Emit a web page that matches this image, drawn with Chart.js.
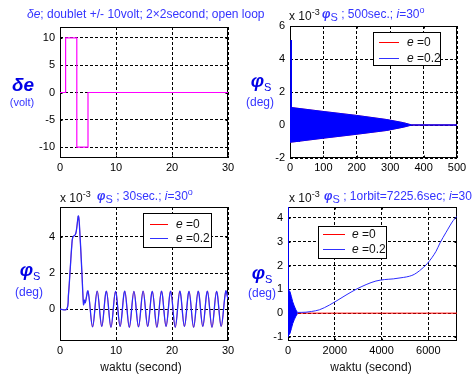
<!DOCTYPE html>
<html><head><meta charset="utf-8">
<script src="https://cdn.jsdelivr.net/npm/chart.js@4/dist/chart.umd.min.js"></script>
<style>
html,body{margin:0;padding:0;background:#fff;width:472px;height:375px;overflow:hidden;}
#wrap{position:relative;width:472px;height:375px;font-family:Arial,"Liberation Sans",Helvetica,sans-serif;}
canvas{position:absolute;left:0;top:0;}
.a{position:absolute;white-space:nowrap;line-height:14px;font-size:12px;}
.blue{color:#3434ff;}
.blk{color:#111;}
.sup{font-size:9px;position:relative;top:-5px;}
.sub{font-size:11px;position:relative;top:3px;}
.c{transform:translate(-50%,-50%);text-align:center;}
.big{font-size:19px;font-weight:bold;font-style:italic;color:#0000e6;line-height:20px;}
.lg{position:absolute;border:1px solid #000;background:#fff;box-sizing:border-box;}
.ln{position:absolute;height:1px;}
</style></head>
<body><div id="wrap">
<canvas id="c1" width="472" height="375"></canvas>
<canvas id="c2" width="472" height="375"></canvas>
<canvas id="c3" width="472" height="375"></canvas>
<canvas id="c4" width="472" height="375"></canvas>

<!-- titles -->
<div class="a blue" style="left:27px;top:7px"><i>δe</i>; doublet +/- 10volt; 2×2second; open loop</div>

<div class="a blk" style="left:289px;top:9px">x 10<span class="sup">-3</span></div>
<div class="a blue" style="left:322px;top:7px"><b><i>φ</i></b><span class="sub">S</span> ; 500sec.; <i>i</i>=30<span class="sup">o</span></div>

<div class="a blk" style="left:60px;top:191px">x 10<span class="sup">-3</span></div>
<div class="a blue" style="left:97px;top:189px"><b><i>φ</i></b><span class="sub">S</span> ; 30sec.; <i>i</i>=30<span class="sup">o</span></div>

<div class="a blk" style="left:289px;top:191px">x 10<span class="sup">-3</span></div>
<div class="a blue" style="left:324px;top:189px"><b><i>φ</i></b><span class="sub">S</span> ; 1orbit=7225.6sec; <i>i</i>=30<span class="sup">o</span></div>

<!-- y labels -->
<div class="a c big" style="left:23px;top:85px">δe</div>
<div class="a c blue" style="left:22px;top:102px;font-size:11px">(volt)</div>

<div class="a c big" style="left:261px;top:82px">φ<span style="font-size:11px;font-weight:normal;font-style:normal;position:relative;top:4px">S</span></div>
<div class="a c blue" style="left:260px;top:102px">(deg)</div>

<div class="a c big" style="left:30px;top:271px">φ<span style="font-size:11px;font-weight:normal;font-style:normal;position:relative;top:4px">S</span></div>
<div class="a c blue" style="left:29px;top:292px">(deg)</div>

<div class="a c big" style="left:262px;top:274px">φ<span style="font-size:11px;font-weight:normal;font-style:normal;position:relative;top:4px">S</span></div>
<div class="a c blue" style="left:262px;top:293px">(deg)</div>

<!-- x labels -->
<div class="a c blk" style="left:141px;top:367px">waktu (second)</div>
<div class="a c blk" style="left:371px;top:367px">waktu (second)</div>
</div>
<script>
// ---------------- data ----------------
// panel 1: elevator doublet input (volt) vs time (s)
const P1_T = [0, 1, 1, 3, 3, 5, 5, 30];
const P1_V = [0, 0, 10, 10, -10, -10, 0, 0];
const P1_XTICKS = [0, 10, 20, 30];
const P1_YTICKS = [-10, -5, 0, 5, 10];

// panel 3: phi_S (x1e-3 deg), first 30 s (e=0 and e=0.2 overlap)
const P3_T = [0, 1.2, 1.5, 1.8, 2.1, 2.3, 2.7, 2.9, 3.3, 3.6, 3.9, 4.2, 4.35, 4.5, 5.0, 5.82, 6.64, 7.46, 8.28, 9.1, 9.92, 10.74, 11.56, 12.38, 13.2, 14.02, 14.84, 15.66, 16.48, 17.3, 18.12, 18.94, 19.76, 20.58, 21.4, 22.22, 23.04, 23.86, 24.68, 25.5, 26.32, 27.14, 27.96, 28.78, 29.6, 30];
const P3_V = [0, 0, 0.75, 2.1, 3.5, 4.0, 4.1, 4.3, 5.15, 3.9, 2.1, 0.25, 0.5, 0.35, 1.0, -0.98, 1.0, -0.95, 1.0, -1.0, 0.98, -0.95, 1.0, -1.0, 0.98, -0.98, 1.0, -0.95, 0.98, -1.0, 1.0, -0.95, 1.0, -1.0, 1.0, -0.95, 0.98, -1.0, 1.0, -0.95, 1.0, -1.0, 0.98, -0.95, 1.0, 0.55];
const P3_XTICKS = [0, 10, 20, 30];
const P3_YTICKS = [0, 2, 4];

// panel 2: 500 s, oscillation envelope (dense band)
const P2_ENV_T  = [0, 100, 200, 290, 340, 365, 500];
const P2_ENV_HI = [1.07, 0.82, 0.58, 0.33, 0.14, 0, 0];
const P2_ENV_LO = [-1.05, -0.80, -0.56, -0.33, -0.13, 0, 0];
const P2_XTICKS = [0, 100, 200, 300, 400, 500];
const P2_YTICKS = [-2, 0, 2, 4, 6];

// panel 4: one orbit
const P4_ENV_T  = [0, 85, 200, 340, 410];
const P4_ENV_HI = [1.0, 0.9, 0.48, 0.13, 0.03];
const P4_ENV_LO = [-0.95, -0.85, -0.44, -0.12, -0.02];
const P4_T = [410, 770, 1000, 1340, 1770, 2050, 2480, 2910, 3340, 3760, 4120, 4500, 4930, 5190, 5400, 5620, 5800, 5970, 6330, 6500, 6760, 7070, 7225.6];
const P4_V = [0.03, 0.04, 0.07, 0.14, 0.34, 0.5, 0.76, 1.0, 1.2, 1.35, 1.41, 1.44, 1.5, 1.55, 1.63, 1.78, 1.93, 2.1, 2.6, 2.95, 3.4, 3.9, 4.07];
const P4_E0_T = [0, 7225.6];
const P4_E0_V = [0, 0];
const P4_XTICKS = [0, 2000, 4000, 6000];
const P4_YTICKS = [-1, 0, 1, 2, 3, 4];

const LEGEND_LABELS = ['0', '0.2'];
const LEGEND_COLORS = ['#ff0000', '#3030ff'];

// ---------------- helpers ----------------
const FONT = 'Arial, "Liberation Sans", sans-serif';
const pts = (t, v) => t.map((x, i) => ({x, y: v[i]}));
const BLUE = '#2a2aff', FILLBLUE = '#0000ff', RED = '#ff0000', MAG = '#ff00ff';

const framePlugin = {
  id: 'frame',
  beforeDatasetsDraw(chart) {
    const {ctx, chartArea: a, scales} = chart;
    ctx.save();
    ctx.setLineDash([]);
    ctx.strokeStyle = '#000';
    ctx.lineWidth = 1;
    const L = Math.round(a.left) + 0.5, T = Math.round(a.top) + 0.5;
    const R = Math.round(a.right) - 0.5, B = Math.round(a.bottom) - 0.5;
    ctx.strokeRect(L, T, R - L, B - T);
    ctx.beginPath();
    scales.x.ticks.forEach(t => {
      const px = Math.round(scales.x.getPixelForValue(t.value)) + 0.5;
      ctx.moveTo(px, B); ctx.lineTo(px, B - 2);
      ctx.moveTo(px, T); ctx.lineTo(px, T + 2);
    });
    scales.y.ticks.forEach(t => {
      const py = Math.round(scales.y.getPixelForValue(t.value)) + 0.5;
      ctx.moveTo(L, py); ctx.lineTo(L + 2, py);
      ctx.moveTo(R, py); ctx.lineTo(R - 2, py);
    });
    ctx.stroke();
    ctx.restore();
  }
};

function makeChart(id, area, xr, yr, xticks, yticks, datasets) {
  const YW = 30, XH = 20;
  const axis = (ticks, isX) => ({
    type: 'linear',
    min: isX ? xr[0] : yr[0],
    max: isX ? xr[1] : yr[1],
    afterFit: s => { if (isX) s.height = XH; else s.width = YW; },
    afterBuildTicks: s => { s.ticks = ticks.map(v => ({value: v})); },
    grid: {color: '#000', lineWidth: 1, drawTicks: false},
    border: {display: false, dash: [3, 2]},
    ticks: {padding: isX ? 3 : 5, color: '#000', font: {family: FONT, size: 11},
            maxRotation: 0, autoSkip: false, callback: v => String(v)}
  });
  return new Chart(document.getElementById(id), {
    type: 'line',
    data: {datasets},
    options: {
      responsive: false, animation: false, events: [],
      layout: {padding: {left: area.l - YW, top: area.t, right: 472 - area.r, bottom: 375 - area.b - XH}},
      plugins: {legend: {display: false}, tooltip: {enabled: false}},
      elements: {point: {radius: 0}, line: {borderWidth: 1}},
      scales: {x: axis(xticks, true), y: axis(yticks, false)}
    },
    plugins: [framePlugin]
  });
}

// Chart.js draws dataset index 0 last (on top): e=0.2 (blue) listed first, e=0 (red) after.

// panel 1
makeChart('c1', {l: 60, t: 27, r: 228, b: 158}, [0, 30], [-12, 12], P1_XTICKS, P1_YTICKS, [
  {data: pts(P1_T, P1_V), borderColor: MAG, borderWidth: 1.2, tension: 0, fill: false}
]);

// panel 2
makeChart('c2', {l: 290, t: 26, r: 457, b: 158}, [0, 500], [-2, 6], P2_XTICKS, P2_YTICKS, [
  {data: pts(P3_T, P3_V), borderColor: FILLBLUE, tension: 0, fill: false},
  {data: pts(P2_ENV_T, P2_ENV_HI), borderColor: FILLBLUE, tension: 0, fill: false},
  {data: pts(P2_ENV_T, P2_ENV_LO), borderColor: FILLBLUE, backgroundColor: FILLBLUE, tension: 0, fill: '-1'},
  {data: pts(P2_ENV_T, P2_ENV_HI), borderColor: RED, borderWidth: 0.6, tension: 0, fill: false},
  {data: pts(P2_ENV_T, P2_ENV_LO), borderColor: RED, borderWidth: 0.6, tension: 0, fill: false}
]);

// panel 3
makeChart('c3', {l: 60, t: 207, r: 228, b: 341}, [0, 30], [-1.76, 5.65], P3_XTICKS, P3_YTICKS, [
  {data: pts(P3_T, P3_V), borderColor: BLUE, borderWidth: 1.3, tension: 0.35, fill: false},
  {data: pts(P3_T, P3_V), borderColor: RED, borderWidth: 0.6, tension: 0.35, fill: false}
]);

// panel 4
makeChart('c4', {l: 288, t: 207, r: 457, b: 341}, [0, 7225.6], [-1.17, 4.46], P4_XTICKS, P4_YTICKS, [
  {data: pts(P4_T, P4_V), borderColor: BLUE, cubicInterpolationMode: 'monotone', fill: false},
  {data: pts(P3_T, P3_V), borderColor: FILLBLUE, tension: 0, fill: false},
  {data: pts(P4_ENV_T, P4_ENV_HI), borderColor: FILLBLUE, tension: 0.3, fill: false},
  {data: pts(P4_ENV_T, P4_ENV_LO), borderColor: FILLBLUE, backgroundColor: FILLBLUE, tension: 0.3, fill: '-1'},
  {data: pts(P4_E0_T, P4_E0_V), borderColor: RED, tension: 0, fill: false}
]);

// legends
function legend(box, x0, x1, tx, ys) {
  const w = document.getElementById('wrap');
  const d = document.createElement('div');
  d.className = 'lg';
  Object.assign(d.style, {left: box[0] + 'px', top: box[1] + 'px', width: (box[2] - box[0]) + 'px', height: (box[3] - box[1]) + 'px'});
  w.appendChild(d);
  LEGEND_LABELS.forEach((lab, i) => {
    const l = document.createElement('div');
    l.className = 'ln';
    Object.assign(l.style, {left: x0 + 'px', top: Math.round(ys[i]) + 'px', width: (x1 - x0) + 'px', background: LEGEND_COLORS[i]});
    w.appendChild(l);
    const t = document.createElement('div');
    t.className = 'a blk';
    t.style.left = tx + 'px';
    t.style.top = (ys[i] - 7) + 'px';
    t.innerHTML = '<i>e</i> =' + lab;
    w.appendChild(t);
  });
}
legend([373, 32, 441, 66], 379, 399, 407, [41.5, 58]);
legend([143, 213, 212, 248], 150, 168, 176, [224, 237.5]);
legend([318, 226, 387, 259], 323, 345, 352, [234, 248.5]);
</script>
</body></html>
